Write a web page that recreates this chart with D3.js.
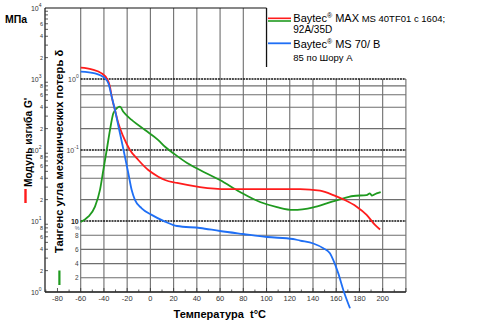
<!DOCTYPE html>
<html><head><meta charset="utf-8">
<script src="https://cdn.jsdelivr.net/npm/d3@7"></script>
<style>body{margin:0;background:#fff}svg{display:block;font-family:"Liberation Sans",Arial,sans-serif}</style>
</head><body><svg id="c" width="500" height="326"></svg>
<script>
// ---- data ----
const redT  = [-60,-50.5,-41.9,-37.6,-34.8,-33.3,-30.5,-27.6,-23.3,-17.6,-10.4,-1.8,6.8,12.6,22.9,42.7,66,94.4,128.9,146.1,157.5,166.1,177.6,186.2,193.4,197.7];
const redG  = [1450,1370,1200,1020,780,564,366,238,154,100,72.3,52.2,42.1,37.8,34.3,30.1,28.2,28.2,28.2,26.7,23.2,20.2,15.9,12.2,8.8,7.6];
const blueT = [-60,-47.7,-39.1,-36.2,-33.3,-30.5,-26.2,-21.9,-19.0,-16.1,-13.3,-7.5,1.1,12.6,22.9,42.7,59.9,79.7,100.4,122.8,128.9,140.3,148.9,154.6,157.5,161.8,166.1,171.9];
const blueG = [1270,1200,1020,870,564,366,172,80.5,47,27.3,19.8,15.1,12.2,9.8,8.5,7.97,7.23,6.56,5.95,5.58,5.3,4.82,4.13,3.51,2.82,1.83,1.07,0.59];
const greenT   = [-60,-53.5,-47.7,-43.4,-40.5,-37.6,-34.8,-31.9,-29,-26.2,-23.3,-16.1,-4.6,6.8,12.6,19.5,31.6,42.7,59.9,77.2,94.4,109,122.8,140.3,151.8,163.2,174.7,186.2,189,190.8,194.8,198.3];
const greenTan = [0.0097,0.0115,0.0159,0.0274,0.0523,0.1,0.191,0.329,0.386,0.407,0.346,0.265,0.191,0.138,0.111,0.0908,0.0656,0.0523,0.0377,0.0256,0.0185,0.0157,0.0143,0.0156,0.0177,0.0202,0.0225,0.0232,0.0245,0.0228,0.0245,0.0256];
const xMinorTicks = d3.range(-90, 221, 10);
const xTickLabels = d3.range(-80, 201, 20);
const gridT = d3.range(-60, 221, 20);
const gDecades = [0,1,2,3,4];
const tanDecades = [0,-1];
const tanMinor = [0.8,0.6,0.4,0.2,0.08,0.06,0.04,0.02];
const pctMinor = [8,6,4,2];
const legendItems = ["Baytec", "MAX", "MS 40TF01 с 1604;", "92A/35D", "MS 70/ B", "85 по Шору А"];

// ---- scales ----
const x = d3.scaleLinear().domain([-60,220]).range([80.7,405.9]);
const yG = d3.scaleLog().domain([1,1e4]).range([292,8]);
const yTan = d3.scaleLog().domain([0.01,1]).range([221,79]);
const yPct = d3.scaleLinear().domain([0,10]).range([292,221]);

const svg = d3.select("#c");
const X0 = x(-60), X1 = x(220), AX = 45, BASE = 292, TOP = 8;
const GRID = "#6e6e6e";

// grid verticals
svg.append("g").selectAll("line").data(gridT).join("line")
  .attr("x1", d=>x(d)).attr("x2", d=>x(d))
  .attr("y1", d=> d<100 ? TOP : yTan(1)).attr("y2", BASE)
  .attr("stroke", GRID).attr("stroke-width", 1.1);
// horizontal minors
svg.append("g").selectAll("line").data(tanMinor.map(v=>yTan(v)).concat(pctMinor.map(v=>yPct(v)))).join("line")
  .attr("x1", X0).attr("x2", X1).attr("y1", d=>d).attr("y2", d=>d)
  .attr("stroke", GRID).attr("stroke-width", 1.1);
// decade lines
svg.append("g").selectAll("line").data([yTan(1), yTan(0.1), yTan(0.01)]).join("line")
  .attr("x1", X0).attr("x2", X1).attr("y1", d=>d).attr("y2", d=>d)
  .attr("stroke", "#111").attr("stroke-width", 1.4).attr("stroke-dasharray","2,0.8");

// top border + legend border
svg.append("line").attr("x1", AX).attr("x2", x(100)).attr("y1", TOP).attr("y2", TOP).attr("stroke","#111").attr("stroke-width",1.2);
svg.append("line").attr("x1", x(100)).attr("x2", x(100)).attr("y1", TOP).attr("y2", 67).attr("stroke","#111").attr("stroke-width",1.3);

// outer axis
svg.append("line").attr("x1", AX).attr("x2", AX).attr("y1", TOP).attr("y2", BASE).attr("stroke","#111").attr("stroke-width",1.2);
const gMinor = [];
gDecades.slice(0,4).forEach(e=>{ for(let m=2;m<10;m++) gMinor.push(m*Math.pow(10,e)); });
svg.append("g").selectAll("line").data(gMinor).join("line")
  .attr("x1", AX).attr("x2", AX+3).attr("y1", d=>yG(d)).attr("y2", d=>yG(d))
  .attr("stroke","#333").attr("stroke-width",0.8);
const gLab = svg.append("g").attr("font-size", 7).attr("fill","#333").attr("text-anchor","end");
gDecades.forEach(e=>{
  const t = gLab.append("text").attr("x", AX-3.5).attr("y", yG(Math.pow(10,e))+2.5);
  t.append("tspan").text("10");
  t.append("tspan").attr("dy",-3.5).attr("font-size",5).text(e);
});
const gMinorLab = [];
gDecades.slice(0,4).forEach(e=>{ [2,4,6,8].forEach(m=>{ if(!(e===3&&m===8)) gMinorLab.push([m, m*Math.pow(10,e)]); }); });
gLab.selectAll("text.m").data(gMinorLab).join("text").attr("class","m")
  .attr("x", AX-2).attr("y", d=>yG(d[1])+2).attr("font-size",5.5).text(d=>d[0]);

// inner axis labels
const iLab = svg.append("g").attr("font-size", 7).attr("fill","#444").attr("text-anchor","end");
tanDecades.forEach(e=>{
  const t = iLab.append("text").attr("x", X0-2).attr("y", yTan(Math.pow(10,e))+2.5);
  t.append("tspan").text("10");
  t.append("tspan").attr("dy",-3.5).attr("font-size",5).text(e===0?"0":"-1");
});
iLab.append("text").attr("x", X0-2).attr("y", yPct(10)+2.5).attr("font-weight","bold").attr("fill","#222").text("10");
iLab.append("text").attr("x", X0-1).attr("y", yPct(10)+9).attr("font-size",5.5).attr("fill","#5a6a8a").text("%");
iLab.selectAll("text.p").data(pctMinor).join("text").attr("class","p")
  .attr("x", X0-2).attr("y", d=>yPct(d)+2.5).attr("font-size",6.5).text(d=>d);

// x axis
svg.append("line").attr("x1", AX).attr("x2", X1).attr("y1", BASE).attr("y2", BASE).attr("stroke","#111").attr("stroke-width",1.5);
svg.append("g").selectAll("line").data(xMinorTicks.filter(d=>x(d)>AX)).join("line")
  .attr("x1", d=>x(d)).attr("x2", d=>x(d)).attr("y1", BASE).attr("y2", d=> d%20===0 ? BASE-4 : BASE-2.5)
  .attr("stroke","#333").attr("stroke-width",0.8);
svg.append("g").attr("font-size",7.5).attr("fill","#333").attr("text-anchor","middle")
  .selectAll("text").data(xTickLabels).join("text")
  .attr("x", d=>x(d)).attr("y", BASE+8.5).text(d=>d);

// curves
const lineG = d3.line().x(d=>x(d[0])).y(d=>yG(d[1])).curve(d3.curveMonotoneX);
const lineTan = d3.line().x(d=>x(d[0])).y(d=>yTan(d[1])).curve(d3.curveMonotoneX);
svg.append("path").attr("d", lineTan(d3.zip(greenT, greenTan))).attr("fill","none").attr("stroke","#1f9a1f").attr("stroke-width",1.8);
svg.append("path").attr("d", lineG(d3.zip(redT, redG))).attr("fill","none").attr("stroke","#ff1c1c").attr("stroke-width",1.8);
svg.append("path").attr("d", lineG(d3.zip(blueT, blueG))).attr("fill","none").attr("stroke","#1f6ff5").attr("stroke-width",1.8);

// titles
svg.append("text").attr("x",5).attr("y",23).attr("font-size",10.5).attr("font-weight","bold").text("МПа");
svg.append("text").attr("transform","translate(31.5,187) rotate(-90)").attr("font-size",10.2).attr("font-weight","bold").text("Модуль изгиба G'");
svg.append("rect").attr("x",24.3).attr("y",189).attr("width",2.4).attr("height",14).attr("fill","#ff1c1c");
svg.append("text").attr("transform","translate(62.5,253) rotate(-90)").attr("font-size",11.2).attr("font-weight","bold").text("Тангенс угла механических потерь δ");
svg.append("rect").attr("x",58.3).attr("y",270.5).attr("width",2.2).attr("height",14.5).attr("fill","#1f9a1f");
svg.append("text").attr("x",173.5).attr("y",318).attr("font-size",11).attr("font-weight","bold").style("white-space","pre").text("Температура  t°C");

// legend
const L = svg.append("g");
L.append("line").attr("x1",268).attr("x2",291).attr("y1",18.3).attr("y2",18.3).attr("stroke","#ff1c1c").attr("stroke-width",1.6);
L.append("line").attr("x1",268).attr("x2",291).attr("y1",21).attr("y2",21).attr("stroke","#1f9a1f").attr("stroke-width",1.6);
L.append("line").attr("x1",268).attr("x2",291).attr("y1",43.3).attr("y2",43.3).attr("stroke","#1f6ff5").attr("stroke-width",1.8);
const t1 = L.append("text").attr("x",293.3).attr("y",22.3).attr("font-size",11).style("white-space","pre");
t1.append("tspan").text(legendItems[0]);
t1.append("tspan").attr("dy",-4).attr("font-size",7).text("®");
t1.append("tspan").attr("dy",4).text(" " + legendItems[1]);
t1.append("tspan").attr("font-size",9.5).text(" " + legendItems[2]);
L.append("text").attr("x",293.3).attr("y",33.3).attr("font-size",10).text(legendItems[3]);
const t3 = L.append("text").attr("x",293.3).attr("y",48.3).attr("font-size",11).style("white-space","pre");
t3.append("tspan").text(legendItems[0]);
t3.append("tspan").attr("dy",-4).attr("font-size",7).text("®");
t3.append("tspan").attr("dy",4).text(" " + legendItems[4]);
L.append("text").attr("x",293.3).attr("y",61).attr("font-size",9.5).text(legendItems[5]);
</script></body></html>
